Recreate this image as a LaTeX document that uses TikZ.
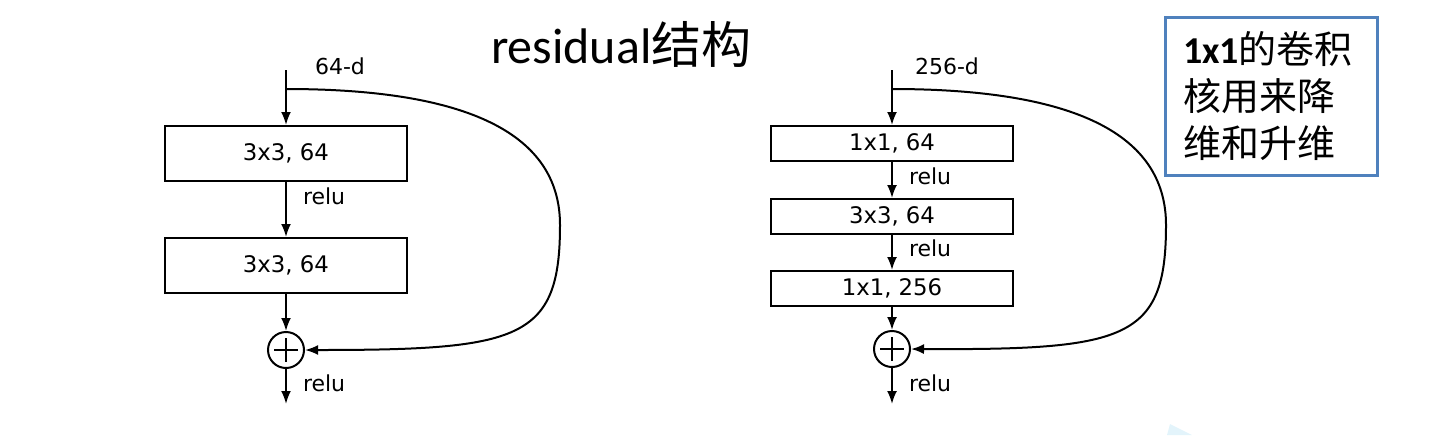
\documentclass[tikz,border=0pt]{standalone}
\usepackage{fontspec}
\usetikzlibrary{arrows.meta}
\newfontfamily\dfont{DejaVu Sans}
\newfontfamily\cfont{Carlito}
\newfontfamily\cjk{Noto Sans CJK SC}
\definecolor{boxblue}{HTML}{4F81BD}
\definecolor{wmark}{HTML}{E3F4FB}
\begin{document}
\begin{tikzpicture}[x=0.5pt,y=-0.5pt,
  line width=1pt,
  >={Latex[length=6.5pt,width=5pt]},
  layer/.style={draw,rectangle,minimum width=121pt,inner sep=0pt,font=\dfont\fontsize{11.4}{13}\selectfont},
  tallbox/.style={layer,minimum height=27.5pt},
  flatbox/.style={layer,minimum height=17.5pt},
  lbl/.style={inner sep=0pt,font=\dfont\fontsize{11}{13}\selectfont},
  sumnode/.style={draw,circle,minimum size=18pt,inner sep=0pt,
    path picture={
      \draw[line width=0.8pt] ([yshift=-3pt]path picture bounding box.north) -- ([yshift=3pt]path picture bounding box.south);
      \draw[line width=0.8pt] ([xshift=3pt]path picture bounding box.west) -- ([xshift=-3pt]path picture bounding box.east);}},
]
\useasboundingbox (0,0) rectangle (1444,435);

% title
\node[anchor=base west,inner sep=0pt] (title) at (490,63)
  {\cfont\fontsize{25}{30}\selectfont residual\cjk 结构};

% ---------------- left block ----------------
\coordinate (inL) at (286,70);
\coordinate (jL) at (286,89);
\node[tallbox] (a1) at (286,153.5) {3x3, 64};
\node[tallbox] (a2) at (286,265.5) {3x3, 64};
\node[sumnode] (sL) at (286,350) {};
\coordinate (outL) at (286,404);
\coordinate (rL) at (560,225);
\node[lbl] (dL) at (340,66) {64-d};
\node[lbl,anchor=west] (rl1) at (302,196) {relu};
\node[lbl,anchor=west] (rl2) at (302,383) {relu};

\draw[->] (inL) -- (a1.north);
\draw[->] (a1.south) -- (a2.north);
\draw[->] (a2.south) -- (sL.north);
\draw[->] (sL.south) -- (outL);
\draw[->] (jL) .. controls (480,89) and (560,140) .. (rL)
  .. controls (560,340) and (520,350) .. (sL.east);

% ---------------- right block ----------------
\coordinate (inR) at (892,70);
\coordinate (jR) at (892,89);
\node[flatbox] (b1) at (892,143.5) {1x1, 64};
\node[flatbox] (b2) at (892,216.5) {3x3, 64};
\node[flatbox] (b3) at (892,288.5) {1x1, 256};
\node[sumnode] (sR) at (892,349) {};
\coordinate (outR) at (892,404);
\coordinate (rR) at (1166,225);
\node[lbl] (dR) at (947,66) {256-d};
\node[lbl,anchor=west] (rr1) at (908,176) {relu};
\node[lbl,anchor=west] (rr2) at (908,248) {relu};
\node[lbl,anchor=west] (rr3) at (908,383) {relu};

\draw[->] (inR) -- (b1.north);
\draw[->] (b1.south) -- (b2.north);
\draw[->] (b2.south) -- (b3.north);
\draw[->] (b3.south) -- (sR.north);
\draw[->] (sR.south) -- (outR);
\draw[->] (jR) .. controls (1086,89) and (1166,140) .. (rR)
  .. controls (1166,340) and (1126,350) .. (sR.east);

% ---------------- note box ----------------
\node[draw=boxblue,line width=1.5pt,rectangle,minimum width=106pt,minimum height=79pt,
  inner xsep=9pt,text width=88pt,align=left,
  font=\fontsize{19}{23.5}\selectfont] (note) at (1271,96)
  {{\cfont\bfseries 1x1}{\cjk 的卷积}\\{\cjk 核用来降}\\{\cjk 维和升维}};

% faint watermark fragment
\fill[wmark] (1170,424) -- (1192,435) -- (1167,435) -- cycle;
\end{tikzpicture}
\end{document}
